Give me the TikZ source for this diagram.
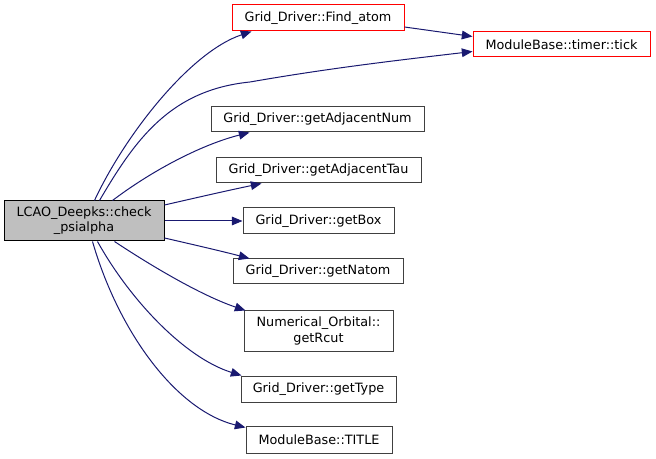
\documentclass[tikz,border=0pt]{standalone}
\usepackage{fontspec}
\setmainfont{DejaVu Sans}
\usetikzlibrary{arrows.meta,calc}
\definecolor{edgecol}{HTML}{191970}
\definecolor{boxline}{HTML}{404040}
\begin{document}
\begin{tikzpicture}[x=0.75pt,y=-0.75pt,
  fnbox/.style={draw=boxline,line width=0.75pt,fill=white,inner sep=0pt,align=center,
    font=\fontsize{9.6pt}{11.3pt}\selectfont},
  redbox/.style={fnbox,draw=red},
  mainbox/.style={fnbox,draw=black,fill={rgb,255:red,191;green,191;blue,191}},
  call/.style={draw=edgecol,line width=0.75pt,-{Triangle[length=8pt,width=6.5pt]}}]
\useasboundingbox (0,0) rectangle (656,459);
\node[mainbox,minimum width=160*0.75pt,minimum height=40*0.75pt] (main) at (84,221) {LCAO\_Deepks::check\\\_psialpha};
\node[redbox,minimum width=172*0.75pt,minimum height=26*0.75pt] (find) at (318,18) {Grid\_Driver::Find\_atom};
\node[redbox,minimum width=177*0.75pt,minimum height=25*0.75pt] (tick) at (561.5,44.5) {ModuleBase::timer::tick};
\node[fnbox,minimum width=213*0.75pt,minimum height=25*0.75pt] (adjnum) at (317.5,119.5) {Grid\_Driver::getAdjacentNum};
\node[fnbox,minimum width=205*0.75pt,minimum height=25*0.75pt] (adjtau) at (318.5,170.5) {Grid\_Driver::getAdjacentTau};
\node[fnbox,minimum width=151*0.75pt,minimum height=26*0.75pt] (box) at (318.5,221) {Grid\_Driver::getBox};
\node[fnbox,minimum width=170*0.75pt,minimum height=25*0.75pt] (natom) at (318,271.5) {Grid\_Driver::getNatom};
\node[fnbox,minimum width=149*0.75pt,minimum height=40*0.75pt] (rcut) at (318.5,331) {Numerical\_Orbital::\\getRcut};
\node[fnbox,minimum width=155*0.75pt,minimum height=26*0.75pt] (type) at (318.5,389) {Grid\_Driver::getType};
\node[fnbox,minimum width=146*0.75pt,minimum height=27*0.75pt] (title) at (319,439.5) {ModuleBase::TITLE};
% edges
\draw[call] ($(main.north west)+(91,0)$) .. controls (125,135) and (190,52) .. ($(find.south west)+(20,0)$);
\draw[call] ($(main.north west)+(96,0)$) .. controls (135,140) and (170,90) .. (250,82) .. controls (330,68) and (400,60) .. ($(tick.west)+(0,7)$);
\draw[call] ($(find.east)+(0,9)$) -- ($(tick.west)+(0,-8)$);
\draw[call] ($(main.north west)+(109,0)$) .. controls (150,172) and (200,145) .. ($(adjnum.south west)+(39,0)$);
\draw[call] ($(main.east)+(0,-16)$) .. controls (195,198) and (230,190) .. ($(adjtau.south west)+(46,0)$);
\draw[call] (main.east) -- (box.west);
\draw[call] ($(main.east)+(0,17)$) .. controls (195,245) and (225,252) .. ($(natom.north west)+(17,0)$);
\draw[call] ($(main.south west)+(111,0)$) .. controls (150,265) and (200,295) .. ($(rcut.north west)+(2,0)$);
\draw[call] ($(main.south west)+(94,0)$) .. controls (130,300) and (185,358) .. ($(type.north west)+(1,0)$);
\draw[call] ($(main.south west)+(89,0)$) .. controls (118,330) and (175,410) .. ($(title.north west)+(0,2)$);
\end{tikzpicture}
\end{document}
